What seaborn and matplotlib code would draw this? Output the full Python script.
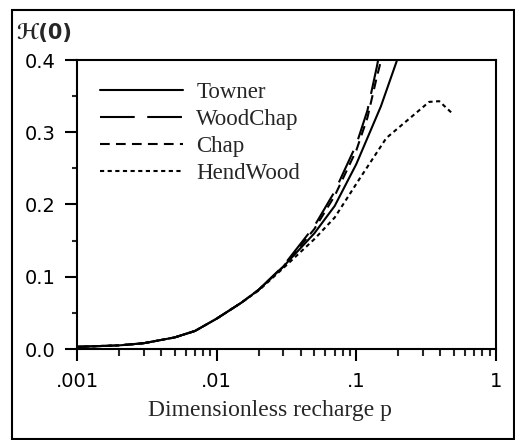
import numpy as np
import pandas as pd
import matplotlib
matplotlib.use("Agg")
import matplotlib.pyplot as plt
from matplotlib.patches import Rectangle
from matplotlib.ticker import FixedLocator, NullFormatter, LogLocator
import seaborn as sns

# ---- data ----
towner_p = [0.001, 0.002, 0.003, 0.005, 0.007, 0.01, 0.015, 0.02, 0.03, 0.05, 0.07, 0.1, 0.15, 0.2]
towner_h = [0.003, 0.005, 0.008, 0.016, 0.025, 0.042, 0.064, 0.082, 0.114, 0.160, 0.198, 0.256, 0.336, 0.405]

woodchap_p = [0.001, 0.002, 0.003, 0.005, 0.007, 0.01, 0.015, 0.02, 0.03, 0.05, 0.07, 0.1, 0.12, 0.14, 0.15]
woodchap_h = [0.003, 0.005, 0.008, 0.016, 0.025, 0.042, 0.064, 0.082, 0.115, 0.170, 0.218, 0.283, 0.330, 0.390, 0.42]

chap_p = [0.001, 0.002, 0.003, 0.005, 0.007, 0.01, 0.015, 0.02, 0.03, 0.05, 0.07, 0.1, 0.12, 0.14, 0.16]
chap_h = [0.003, 0.005, 0.008, 0.016, 0.025, 0.042, 0.064, 0.082, 0.114, 0.166, 0.212, 0.275, 0.320, 0.376, 0.42]

hendwood_p = [0.001, 0.002, 0.003, 0.005, 0.007, 0.01, 0.015, 0.02, 0.03, 0.05, 0.07, 0.105, 0.164, 0.247, 0.332, 0.392, 0.493]
hendwood_h = [0.003, 0.005, 0.008, 0.016, 0.025, 0.042, 0.064, 0.081, 0.112, 0.152, 0.182, 0.235, 0.292, 0.321, 0.342, 0.343, 0.325]

series_names = ["Towner", "WoodChap", "Chap", "HendWood"]
x_ticks = [0.001, 0.01, 0.1, 1]
x_tick_labels = [".001", ".01", ".1", "1"]
y_ticks = [0.0, 0.1, 0.2, 0.3, 0.4]
y_tick_labels = ["0.0", "0.1", "0.2", "0.3", "0.4"]

# ---- style ----
sns.set_style("ticks")
plt.rcParams["font.family"] = ["DejaVu Sans"]
plt.rcParams["lines.scale_dashes"] = False

W, H = 515, 440
fig = plt.figure(figsize=(W / 100, H / 100), dpi=100)
ax = fig.add_axes([77 / W, 1 - 349 / H, (496 - 77) / W, (349 - 60) / H])

styles = {
    "Towner": "-",
    "WoodChap": (0, (25, 9)),
    "Chap": (0, (7, 4.5)),
    "HendWood": (0, (3, 2.5)),
}
data = {
    "Towner": (towner_p, towner_h),
    "WoodChap": (woodchap_p, woodchap_h),
    "Chap": (chap_p, chap_h),
    "HendWood": (hendwood_p, hendwood_h),
}

for name in series_names:
    px, hy = data[name]
    df = pd.DataFrame({"p": px, "H": hy})
    sns.lineplot(data=df, x="p", y="H", ax=ax, color="black", lw=1.5,
                 linestyle=styles[name], label=name, sort=False, estimator=None)

ax.set_xscale("log")
ax.set_xlim(0.001, 1)
ax.set_ylim(0, 0.4)
ax.set_xticks(x_ticks)
ax.set_xticklabels(x_tick_labels)
ax.xaxis.set_minor_locator(LogLocator(base=10, subs=np.arange(2, 10)))
ax.xaxis.set_minor_formatter(NullFormatter())
ax.set_yticks(y_ticks)
ax.set_yticklabels(y_tick_labels)
ax.yaxis.set_minor_locator(FixedLocator([0.05, 0.15, 0.25, 0.35]))
ax.set_xlabel("")
ax.set_ylabel("")

for s in ax.spines.values():
    s.set_visible(True)
    s.set_linewidth(1.5)
    s.set_color("black")

ax.tick_params(axis="both", which="major", direction="out", length=8.5, width=1.5,
               color="black", labelsize=14, labelcolor="black")
ax.tick_params(axis="x", which="major", pad=8)
ax.tick_params(axis="y", which="major", pad=7)
ax.tick_params(axis="x", which="minor", direction="out", length=5, width=1.5)
ax.tick_params(axis="y", which="minor", direction="out", length=3.6, width=1.5)

leg = ax.legend(loc="upper left", bbox_to_anchor=((100 - 77) / 419, (349 - 82) / 289),
                frameon=False, borderpad=0, borderaxespad=0, handlelength=3.6,
                handletextpad=0.6, labelspacing=0.26,
                prop={"family": "Liberation Serif", "size": 16.5})
for line in leg.get_lines():
    line.set_linewidth(1.5)

fig.text(270 / W, 1 - 410 / H, "Dimensionless recharge p", ha="center", va="center",
         fontsize=17, family="Liberation Serif")
fig.text(16 / W, 1 - 33 / H, "\u210b(0)", ha="left", va="center",
         fontsize=15, fontweight="bold")

fig.patches.append(Rectangle((12 / W, 1 - 438.5 / H), (513.5 - 12) / W, (438.5 - 10.5) / H,
                             transform=fig.transFigure, fill=False, lw=1.5,
                             edgecolor="black"))

fig.savefig("out.png", dpi=100)
